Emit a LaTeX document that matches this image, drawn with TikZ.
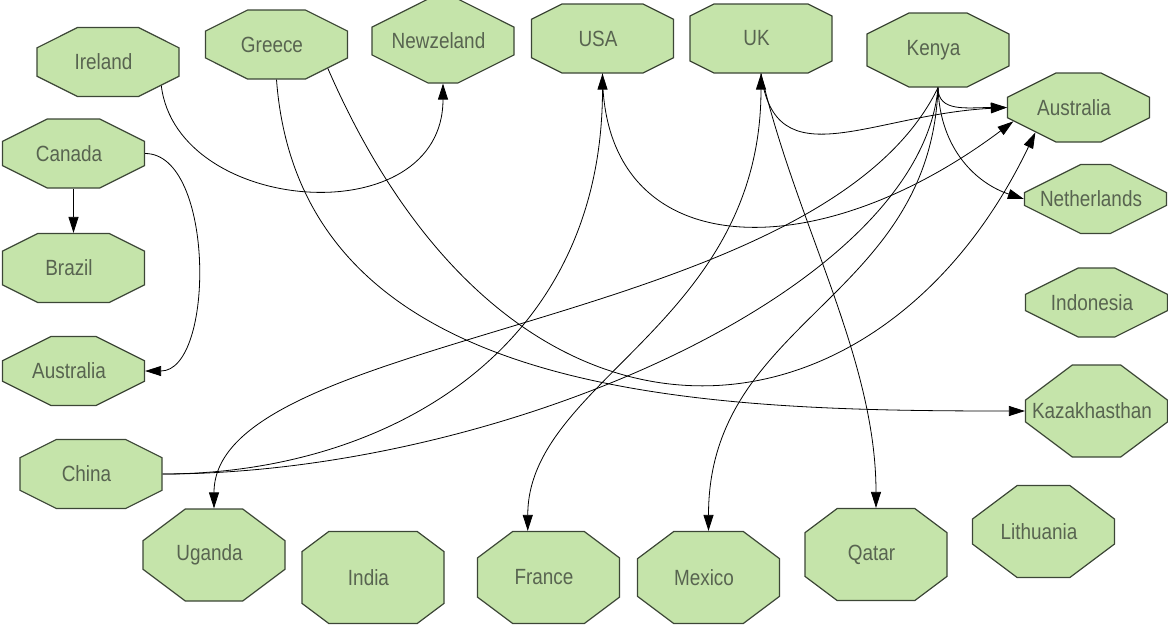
\documentclass[tikz,border=0pt]{standalone}
\usepackage{fontspec}
\setmainfont{Liberation Sans}[FakeStretch=0.86]
\usepackage{tikz}
\usetikzlibrary{shapes.misc}
\usetikzlibrary{arrows.meta}
\definecolor{landgruen}{RGB}{197,228,170}
\definecolor{landrand}{RGB}{60,70,54}
\definecolor{landtext}{RGB}{88,100,80}

\begin{document}
\begin{tikzpicture}[
x=1pt, y=-1pt,
>={Triangle[length=16pt,width=10pt]},
land/.style={chamfered rectangle, chamfered rectangle angle=63.43,
  chamfered rectangle xsep=40, chamfered rectangle ysep=20,
  draw=landrand, line width=1.2pt, fill=landgruen, text=landtext,
  minimum width=142, minimum height=69, inner sep=0pt,
  font=\fontsize{22}{26}\selectfont,
  execute at begin node=\hspace*{-9pt}},
hoch/.style={land, minimum height=92, chamfered rectangle angle=53.13,
  chamfered rectangle xsep=36, chamfered rectangle ysep=27},
kante/.style={line width=0.8pt, black}
]

\def\breite{1168}
\def\hoehe{625}
\useasboundingbox (0,0) rectangle (\breite,\hoehe);

% Knoten oben und rechts
\foreach \n/\x/\y/\t in {ire/108/62/Ireland, grc/276.5/44.5/Greece,
  usa/602.5/38.5/USA, uk/761/38.5/UK, ausr/1078.5/107.5/Australia,
  can/73.5/153.5/Canada, bra/73.5/268/Brazil, ausl/73.5/371/Australia,
  ned/1095.5/199/Netherlands, idn/1096.5/302.5/Indonesia, chn/91/474/China}
\node[land] (\n) at (\x,\y) {\t};
\node[land, minimum height=84] (nwz) at (443,41) {Newzeland};
\node[land, minimum height=74] (kny) at (938,50) {Kenya};

% Knoten unten
\foreach \n/\x/\y/\t in {kaz/1096.5/411/Kazakhasthan, uga/214/555/Uganda,
  ind/373/577.5/India, fra/548.5/577.5/France, mex/708.5/577.5/Mexico,
  qat/876/554.5/Qatar, lit/1043.5/531.5/Lithuania}
\node[hoch] (\n) at (\x,\y) {\t};

% Kanten
\draw[kante,->] (can.south) -- (bra.north);
\draw[kante,->] (can.east) .. controls +(70,0) and +(70,0) .. (ausl.east);
\draw[kante,->] (ire.-24) .. controls +(16,130) and +(0,151) .. (nwz.south);
\draw[kante,->] (grc.south) .. controls +(24,321) and +(-326,0) .. (kaz.west);
\draw[kante,->] (grc.-25) .. controls +(188,432) and +(-155,324) .. (ausr.210);
\draw[kante,->] (chn.east) .. controls +(220,0) and +(0,280) .. (usa.south);
\draw[kante] (chn.east) .. controls +(337,0) and +(-18,203) .. (kny.south);
\draw[kante,->] (kny.south) .. controls +(-118,243) and +(0,-178) .. (uga.north);
\draw[kante,->] (kny.south) .. controls +(-8,213) and +(0,-212) .. (mex.north);
\draw[kante,<->] (uk.south) .. controls +(0,250) and +(0,-150) .. (fra.114);
\draw[kante,->] (uk.south) .. controls +(35,150) and +(0,-150) .. (qat.north);
\draw[kante,->] (uk.south) .. controls +(14,107) and +(-137,7) .. (ausr.west);
\draw[kante,->] (kny.south) .. controls +(0,25) and +(-40,0) .. (ausr.west);
\draw[kante,->] (usa.south) .. controls +(0,190) and +(-200,150) .. (ausr.192);
\draw[kante,->] (kny.south) .. controls +(2,63) and +(-46,-15) .. (ned.west);

\end{tikzpicture}
\end{document}
